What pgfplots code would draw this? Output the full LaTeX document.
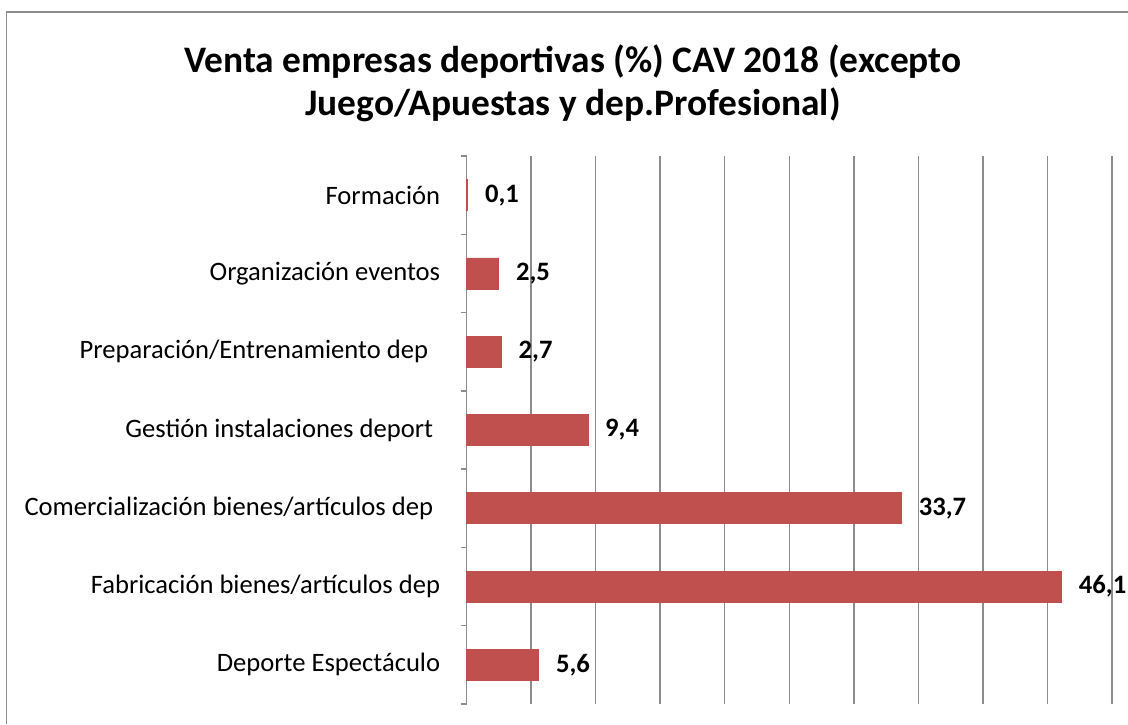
\documentclass[border=0pt]{standalone}
\usepackage{fontspec}
\setmainfont{Carlito}
\usepackage{pgfplots}
\pgfplotsset{compat=1.18}
\definecolor{barred}{HTML}{C0504D}
\definecolor{gridgray}{HTML}{8C8C8C}
\begin{document}
\begin{tikzpicture}[x=1pt,y=1pt]
\useasboundingbox (0,0) rectangle (564,362);
\draw[gridgray, line width=0.75pt] (3.25,0) -- (3.25,356) -- (564,356);
\node[font=\fontsize{18.7}{21.5}\selectfont\bfseries, align=center] at (286.5,320.5) {Venta empresas deportivas (\%) CAV 2018 (excepto\\Juego/Apuestas y dep.Profesional)};
\begin{axis}[
  at={(233.25pt,10pt)}, anchor=south west,
  scale only axis, width=322.75pt, height=274pt,
  xmin=0, xmax=50, ymin=-0.5, ymax=6.5,
  xbar, bar width=15.5pt,
  xtick={0,5,...,50}, xticklabels={},
  xmajorgrids, major grid style={gridgray, line width=0.75pt},
  axis line style={draw=none},
  ytick={0,...,6},
  yticklabels={Deporte Espectáculo, Fabricación bienes/artículos dep, Comercialización bienes/artículos dep\rule{3.5pt}{0pt}, Gestión instalaciones deport\rule{3.5pt}{0pt}, Preparación/Entrenamiento dep\rule{6pt}{0pt}, Organización eventos, Formación},
  minor ytick={-0.5,0.5,...,6.5},
  major tick length=0pt, minor tick length=3pt,
  tick align=outside, ytick pos=left, xtick pos=bottom,
  minor tick style={draw=gridgray, line width=0.75pt},
  yticklabel style={font=\fontsize{13.3}{15}\selectfont, inner sep=0pt, xshift=-13pt},
  nodes near coords, point meta=x,
  nodes near coords style={font=\fontsize{13.3}{15}\selectfont\bfseries, anchor=west, inner sep=0pt, xshift=8.5pt,
    /pgf/number format/.cd, fixed, fixed zerofill, precision=1, use comma, assume math mode=true},
  clip=false,
]
\addplot[fill=barred, draw=barred, line width=0.3pt] coordinates {(5.6,0) (46.1,1) (33.7,2) (9.4,3) (2.7,4) (2.5,5) (0.1,6)};
\end{axis}
\end{tikzpicture}
\end{document}
